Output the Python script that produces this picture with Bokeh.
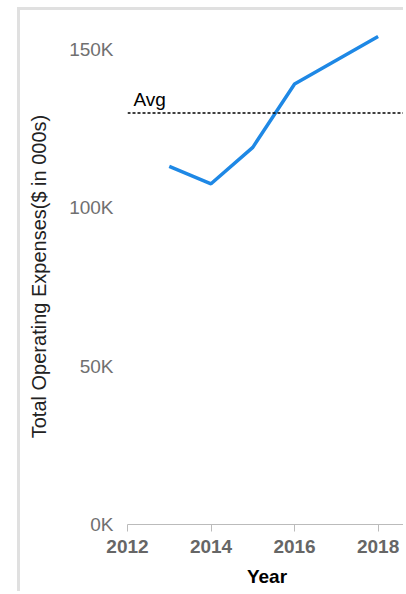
import numpy as np
from bokeh.plotting import figure
from bokeh.models import Span, FixedTicker, Range1d
from bokeh.core.properties import value
from bokeh.embed import file_html
from bokeh.resources import INLINE

years = [2013, 2014, 2015, 2016, 2017, 2018]
expenses = [113000, 107500, 119000, 139000, 146500, 154000]
x_ticks = [2012, 2014, 2016, 2018]
y_ticks = [0, 50000, 100000, 150000]
y_tick_labels = ["0K", "50K", "100K", "150K"]
avg_label = "Avg"

avg = float(np.mean(expenses))

FONT = "Liberation Sans"
W, H = 386, 584

p = figure(
    width=W, height=H,
    x_range=Range1d(2012, 2018.68), y_range=Range1d(0, 156500),
    output_backend="svg", toolbar_location=None,
    min_border_left=107, min_border_right=0, min_border_top=18, min_border_bottom=70,
)
# panel frame of the dashboard card
p.styles = {
    "margin-left": "17px",
    "margin-top": "7px",
    "border-left": "3px solid #e0e0e0",
    "border-top": "3px solid #e0e0e0",
}
p.outline_line_color = None
p.xgrid.visible = False
p.ygrid.visible = False
p.background_fill_color = "white"
p.border_fill_color = "white"

p.line(years, expenses, line_color="#1e88e5", line_width=3.5)

p.add_layout(Span(location=avg, dimension="width", line_color="black",
                  line_width=1.5, line_dash="3 2"))
p.text(x=[x_ticks[0]], y=[avg], text=[avg_label], x_offset=6, y_offset=-3,
       text_baseline="bottom", text_align="left", text_color="black",
       text_font=value(FONT), text_font_size="19px")

# x axis
xa = p.xaxis[0]
xa.ticker = FixedTicker(ticks=x_ticks)
xa.axis_line_color = "#bbbbbb"
xa.major_tick_line_color = "#bbbbbb"
xa.major_tick_in = 0
xa.major_tick_out = 7
xa.minor_tick_line_color = None
xa.major_label_text_font = FONT
xa.major_label_text_font_size = "19px"
xa.major_label_text_font_style = "bold"
xa.major_label_text_color = "#666666"
xa.major_label_standoff = 8
xa.axis_label = "Year"
xa.axis_label_text_font = FONT
xa.axis_label_text_font_size = "19px"
xa.axis_label_text_font_style = "bold"
xa.axis_label_text_color = "black"
xa.axis_label_standoff = 10

# y axis
ya = p.yaxis[0]
ya.ticker = FixedTicker(ticks=y_ticks)
ya.major_label_overrides = {t: l for t, l in zip(y_ticks, y_tick_labels)}
ya.axis_line_color = None
ya.major_tick_line_color = None
ya.minor_tick_line_color = None
ya.major_tick_in = 0
ya.major_tick_out = 0
ya.major_label_text_font = FONT
ya.major_label_text_font_size = "19px"
ya.major_label_text_color = "#707070"
ya.major_label_standoff = 14
ya.axis_label = "Total Operating Expenses($ in 000s)"
ya.axis_label_text_font = FONT
ya.axis_label_text_font_size = "20px"
ya.axis_label_text_font_style = "normal"
ya.axis_label_text_color = "#222222"
ya.axis_label_standoff = 16

open("out.html", "w").write(file_html(p, INLINE))
